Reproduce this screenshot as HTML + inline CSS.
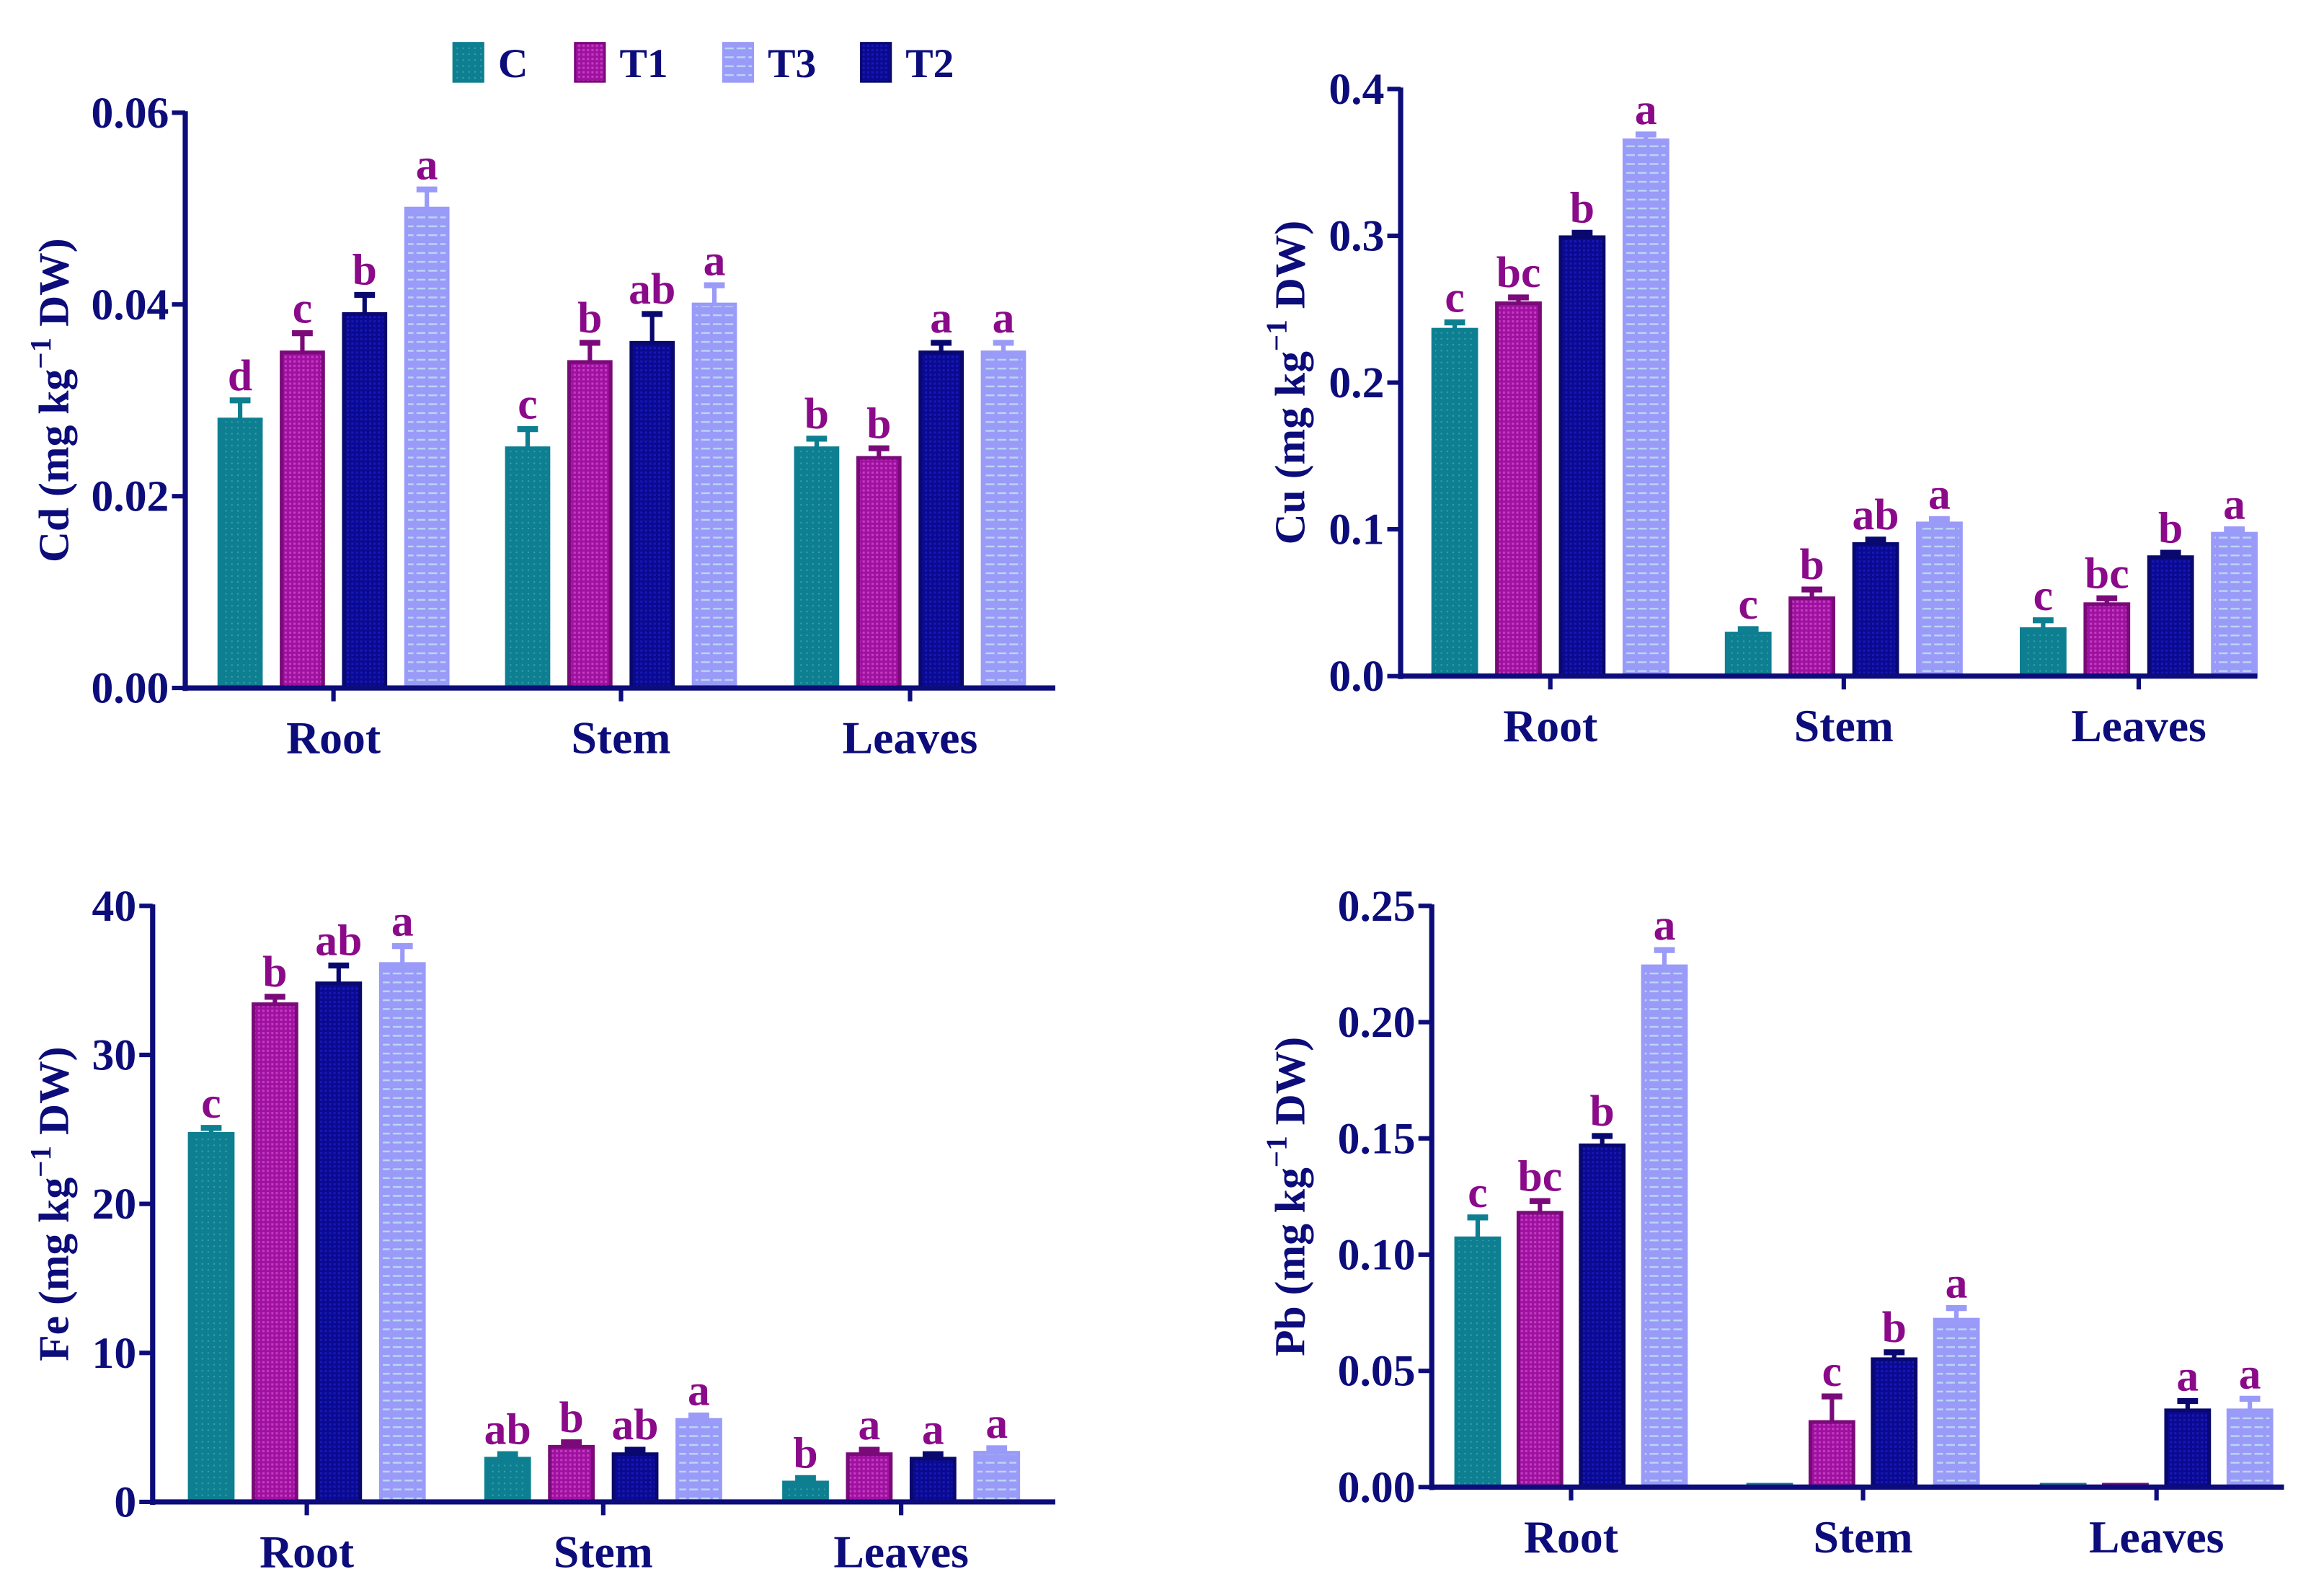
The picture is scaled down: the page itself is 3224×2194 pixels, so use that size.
<!DOCTYPE html>
<html><head><meta charset="utf-8"><style>
html,body{margin:0;padding:0;background:#fff;}
svg{display:block;font-family:"Liberation Serif",serif;font-weight:bold;}
</style></head><body>
<svg id="chart" width="3224" height="2194" viewBox="0 0 1568 1067" xmlns="http://www.w3.org/2000/svg">
<defs>
<pattern id="pT3" width="8" height="6" patternUnits="userSpaceOnUse"><rect width="8" height="6" fill="#9a9af8"/><rect x="1" y="2" width="6" height="1.2" fill="#b8d8f0"/></pattern>
<pattern id="pT1" width="3" height="3" patternUnits="userSpaceOnUse"><rect width="3" height="3" fill="#a010a0"/><rect width="1.5" height="1.5" fill="#c040c0"/></pattern>
<pattern id="pT2" width="3" height="3" patternUnits="userSpaceOnUse"><rect width="3" height="3" fill="#0a0a90"/><rect width="1.5" height="1.5" fill="#1818b8"/></pattern>
<pattern id="pC" width="4" height="4" patternUnits="userSpaceOnUse"><rect width="4" height="4" fill="#0e7f90"/><rect width="1" height="1" fill="#3aa0b0"/></pattern>
</defs>
<g id="legend"></g>
</svg>
<script>
const categories = ["Root","Stem","Leaves"];
const seriesNames = ["C","T1","T2","T3"];
const cdValues = [[0.028,0.035,0.039,0.050],[0.025,0.034,0.036,0.040],[0.025,0.024,0.035,0.035]];
const cdErrors = [[0.002,0.002,0.002,0.002],[0.002,0.002,0.003,0.002],[0.001,0.001,0.001,0.001]];
const cdLetters = [["d","c","b","a"],["c","b","ab","a"],["b","b","a","a"]];
const cdTicks = ["0.00","0.02","0.04","0.06"];
const cuValues = [[0.236,0.254,0.299,0.365],[0.029,0.053,0.090,0.104],[0.032,0.049,0.081,0.097]];
const cuErrors = [[0.005,0.004,0.003,0.004],[0.003,0.006,0.003,0.003],[0.006,0.004,0.003,0.003]];
const cuLetters = [["c","bc","b","a"],["c","b","ab","a"],["c","bc","b","a"]];
const cuTicks = ["0.0","0.1","0.2","0.3","0.4"];
const feValues = [[24.7,33.4,34.8,36.1],[2.9,3.7,3.2,5.5],[1.3,3.2,2.9,3.3]];
const feErrors = [[0.4,0.5,1.2,1.2],[0.3,0.3,0.3,0.3],[0.3,0.3,0.3,0.3]];
const feLetters = [["c","b","ab","a"],["ab","b","ab","a"],["b","a","a","a"]];
const feTicks = ["0","10","20","30","40"];
const pbValues = [[0.107,0.118,0.147,0.224],[0.001,0.028,0.055,0.072],[0.001,0.001,0.033,0.033]];
const pbErrors = [[0.009,0.005,0.004,0.007],[0,0.011,0.003,0.005],[0,0,0.004,0.005]];
const pbLetters = [["c","bc","b","a"],["","c","b","a"],["","","a","a"]];
const pbTicks = ["0.00","0.05","0.10","0.15","0.20","0.25"];

const NS="http://www.w3.org/2000/svg";
const svg=document.getElementById('chart');
const NAVY="#0c0c7a", PURP="#8a0a8a";
const fills=["url(#pC)","url(#pT1)","url(#pT2)","url(#pT3)"];
const strokes=["#0e7f90","#7a0a7a","#08086e","#9a9af8"];
function mk(tag,attrs,parent,text){const e=document.createElementNS(NS,tag);for(const k in attrs)e.setAttribute(k,attrs[k]);if(text!==undefined)e.textContent=text;(parent||svg).appendChild(e);return e;}

function panel(cfg){
  const g=mk('g',{});
  
  
  const ymax=parseFloat(cfg.ticks[cfg.ticks.length-1]);
  const y=v=>cfg.y0-(v/ymax)*(cfg.y0-cfg.yTop);
  cfg.values.forEach((row,gi)=>{
    const cx=cfg.centers[gi];
    row.forEach((v,si)=>{
      const bx=cx+(si-1.5)*cfg.sp-cfg.bw/2;
      const top=y(v);
      const col=strokes[si];
      const e=cfg.errors[gi][si];
      if(e>0){
        const et=y(v+e);
        const l=mk('line',{x1:bx+cfg.bw/2,x2:bx+cfg.bw/2,y1:top,y2:et,stroke:col,'stroke-width':3},g);
        
        
        const c=mk('line',{x1:bx+cfg.bw/2-7,x2:bx+cfg.bw/2+7,y1:et,y2:et,stroke:col,'stroke-width':4},g);
        
        
      }
      const r=mk('rect',{x:bx,y:top,width:cfg.bw,height:Math.max(cfg.y0-top,0),fill:fills[si],stroke:col,'stroke-width':2.5},g);
      
      
      const L=cfg.letters[gi][si];
      if(L){
        const t=mk('text',{x:bx+cfg.bw/2,y:y(v+e)-7,'text-anchor':'middle','font-size':30,fill:PURP},g,L);
        
        
      }
    });
    const tk=mk('line',{x1:cx,x2:cx,y1:cfg.y0,y2:cfg.y0+9,stroke:NAVY,'stroke-width':3},g);
    
    
    const cl=mk('text',{x:cx,y:cfg.y0+44,'text-anchor':'middle','font-size':31,fill:NAVY},g,categories[gi]);
    
    
  });
  const ya=mk('line',{x1:cfg.x0,x2:cfg.x0,y1:cfg.yTop-1,y2:cfg.y0+2,stroke:NAVY,'stroke-width':3.5},g);
  
  
  const xa=mk('line',{x1:cfg.x0,x2:cfg.x1,y1:cfg.y0,y2:cfg.y0,stroke:NAVY,'stroke-width':3.5},g);
  
  
  cfg.ticks.forEach(t=>{
    const yy=y(parseFloat(t));
    const l=mk('line',{x1:cfg.x0-9,x2:cfg.x0,y1:yy,y2:yy,stroke:NAVY,'stroke-width':3},g);
    
    
    const tx=mk('text',{x:cfg.x0-11,y:yy+10,'text-anchor':'end','font-size':30,fill:NAVY},g,t);
    
    
  });
  const my=(cfg.y0+cfg.yTop)/2;
  const yt=mk('text',{x:cfg.lx,y:my,'text-anchor':'middle','font-size':29,fill:NAVY,transform:`rotate(-90 ${cfg.lx} ${my})`},g);
  
  
  mk('tspan',{},yt,cfg.name+' (mg kg');
  mk('tspan',{dy:-12,'font-size':20},yt,'\u22121');
  mk('tspan',{dy:12},yt,' DW)');
}
panel({name:'Cd',values:cdValues,errors:cdErrors,letters:cdLetters,ticks:cdTicks,x0:125,x1:712,y0:464,yTop:76,centers:[225,419,614],sp:42,bw:28,lx:46});
panel({name:'Cu',values:cuValues,errors:cuErrors,letters:cuLetters,ticks:cuTicks,x0:945,x1:1523,y0:456,yTop:60,centers:[1046,1244,1443],sp:43,bw:29,lx:880});
panel({name:'Fe',values:feValues,errors:feErrors,letters:feLetters,ticks:feTicks,x0:103,x1:712,y0:1013,yTop:611,centers:[207,407,608],sp:43,bw:29,lx:46});
panel({name:'Pb',values:pbValues,errors:pbErrors,letters:pbLetters,ticks:pbTicks,x0:966,x1:1541,y0:1003,yTop:611,centers:[1060,1257,1455],sp:42,bw:29,lx:880});

const lg=document.getElementById('legend');
const legendOrder=[["C",0,306],["T1",1,388],["T3",3,488],["T2",2,581]];
legendOrder.forEach(([n,si,x])=>{
  const r=mk('rect',{x:x,y:29,width:20,height:26,fill:fills[si],stroke:strokes[si],'stroke-width':1.5},lg);
  
  
  const t=mk('text',{x:x+30,y:52,'font-size':28,fill:NAVY},lg,n);
  
  
});
</script>
</body></html>
